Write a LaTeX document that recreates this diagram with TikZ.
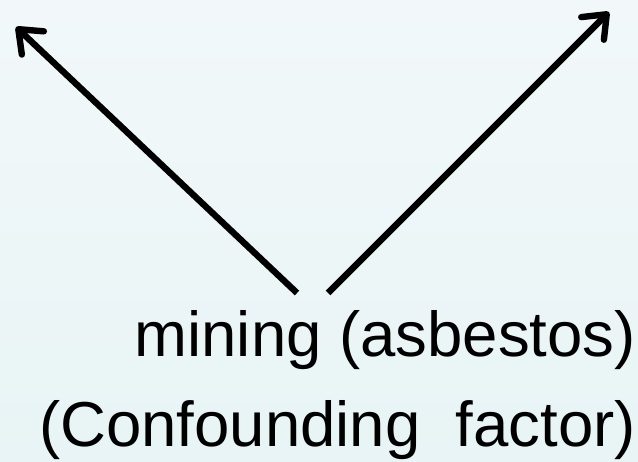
\documentclass[tikz,border=0pt]{standalone}
\usepackage{fontspec}
\setmainfont{Liberation Sans}
\usetikzlibrary{arrows.meta}
\definecolor{bgtop}{RGB}{242,248,250}
\definecolor{bgbot}{RGB}{232,244,245}
\tikzset{
  conn/.style={line width=6.4bp, line cap=butt, -{Straight Barb[length=20bp,width=32bp,round]}},
  lbl/.style={inner sep=0pt, anchor=base east, font=\fontsize{63.5bp}{89bp}\selectfont}
}
\begin{document}
\begin{tikzpicture}[x=1bp,y=-1bp]
  \shade[top color=bgtop, bottom color=bgbot] (0,0) rectangle (638,462);
  \useasboundingbox (0,0) rectangle (638,462);
  \coordinate (s1) at (297,293);
  \coordinate (t1) at (16,27);
  \coordinate (s2) at (328,293);
  \coordinate (t2) at (609,12);
  \draw[conn] (s1) -- (t1);
  \draw[conn] (s2) -- (t2);
  \node[lbl] (mining) at (636,356.7) {mining (asbestos)};
  \node[lbl] (conf) at (636,446) {(Confounding\ \ factor)};
\end{tikzpicture}
\end{document}
